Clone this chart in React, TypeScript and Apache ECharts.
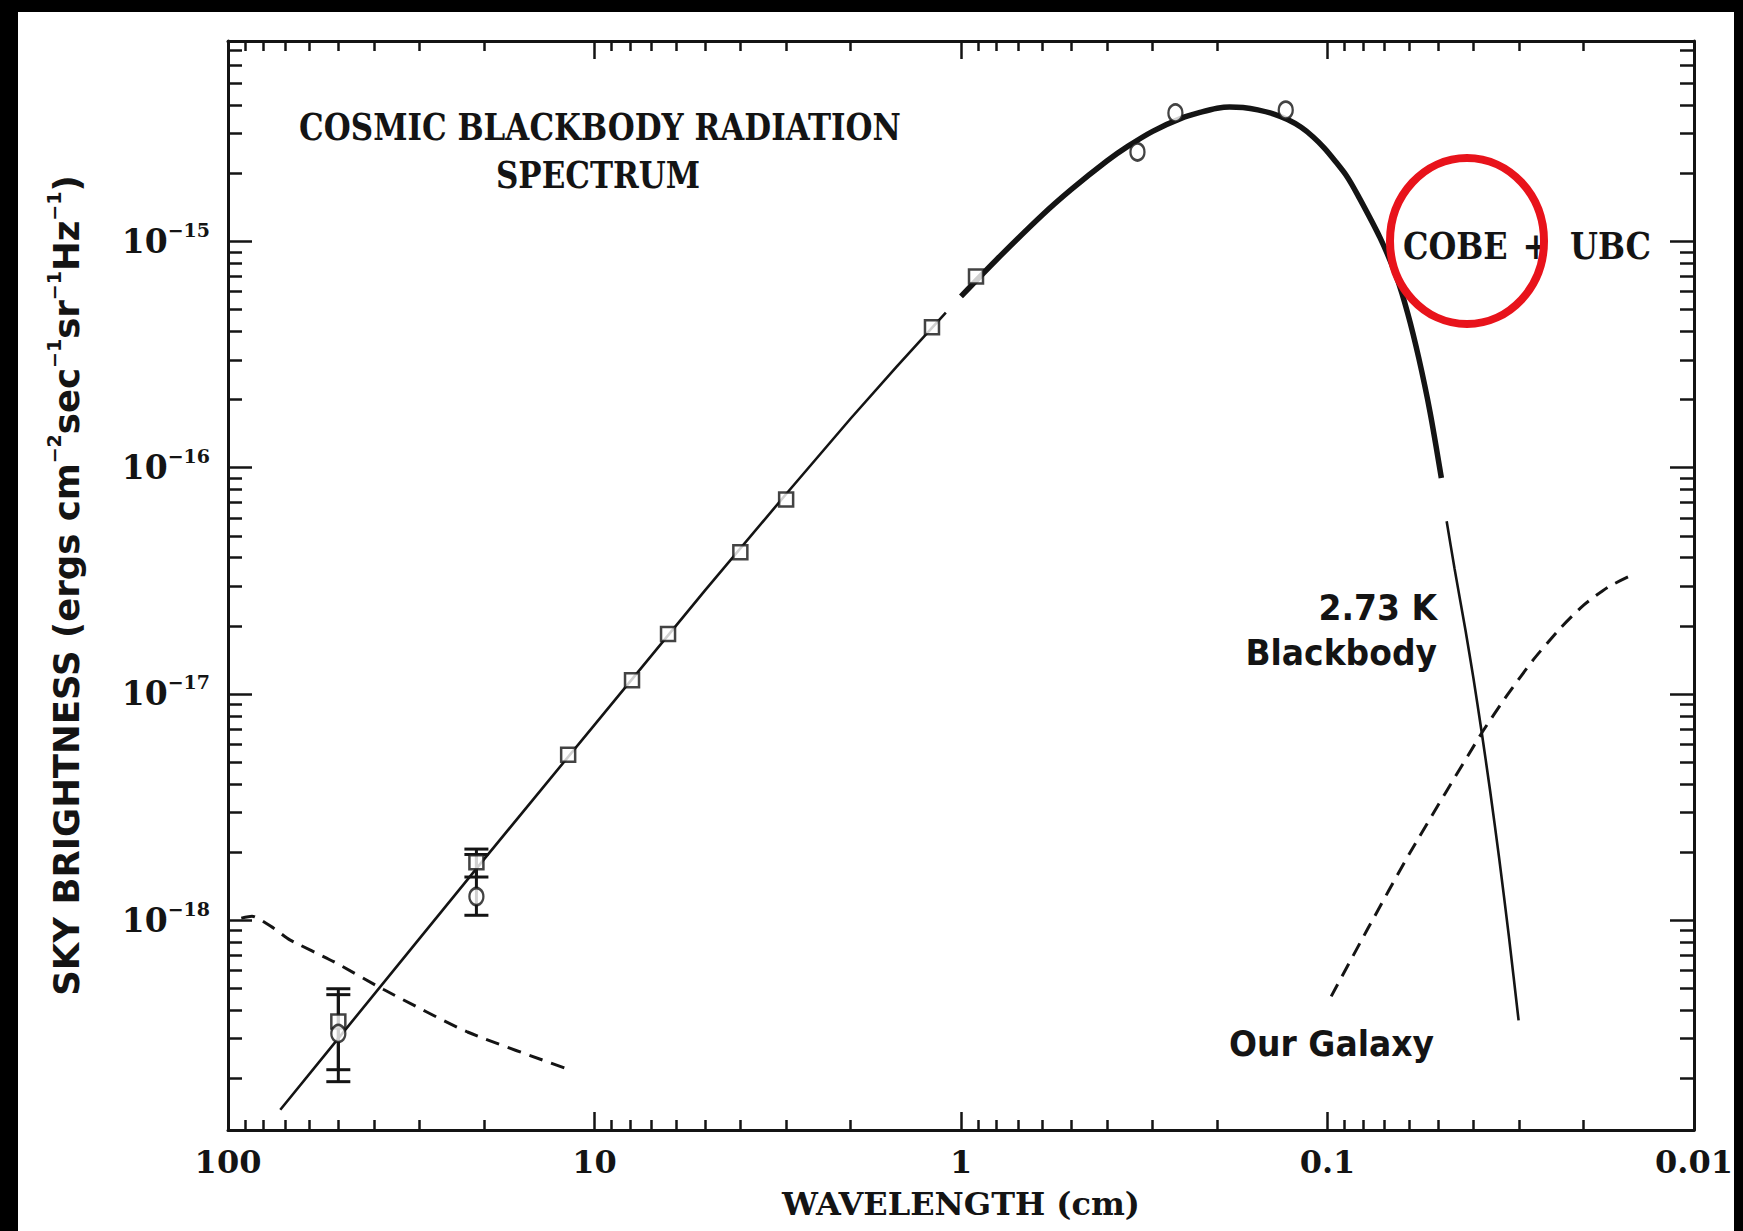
import React, { useEffect, useRef } from 'react';
import * as echarts from 'echarts';

// Wavelength in cm, sky brightness in erg cm^-2 s^-1 sr^-1 Hz^-1
const bbLowLambda = [72, 50, 30, 20, 10, 5, 3, 2, 1.5, 1.1];
const bbLowValue = [1.45e-19, 3.0e-19, 8.3e-19, 1.86e-18, 7.3e-18, 2.86e-17, 7.65e-17, 1.65e-16, 2.79e-16, 4.85e-16];

const bbPeakLambda = [1.0, 0.8, 0.6, 0.5, 0.4, 0.35, 0.3, 0.25, 0.22, 0.2, 0.185, 0.17, 0.155, 0.14, 0.1285, 0.118, 0.1094, 0.102, 0.0951, 0.0885, 0.0826, 0.0719, 0.0648, 0.0604, 0.0564, 0.0525, 0.0489];
const bbPeakValue = [5.72e-16, 8.31e-16, 1.31e-15, 1.7e-15, 2.27e-15, 2.64e-15, 3.07e-15, 3.51e-15, 3.74e-15, 3.88e-15, 3.93e-15, 3.91e-15, 3.82e-15, 3.66e-15, 3.46e-15, 3.2e-15, 2.9e-15, 2.59e-15, 2.26e-15, 1.94e-15, 1.6e-15, 1.04e-15, 6.97e-16, 4.81e-16, 3.07e-16, 1.76e-16, 9.0e-17];

const bbTailLambda = [0.0473, 0.045, 0.042, 0.04, 0.038, 0.036, 0.034, 0.032, 0.0301];
const bbTailValue = [5.8e-17, 3.57e-17, 1.9e-17, 1.18e-17, 6.85e-18, 3.73e-18, 1.87e-18, 8.5e-19, 3.6e-19];

const galLowLambda = [92, 86, 75, 68, 51.5, 37.6, 22.2, 11.7];
const galLowValue = [1.02e-18, 1.04e-18, 9.2e-19, 8.2e-19, 6.55e-19, 4.93e-19, 3.2e-19, 2.18e-19];

const galHighLambda = [0.0977, 0.0778, 0.0594, 0.0382, 0.0323, 0.0274, 0.0231, 0.02, 0.0172, 0.0149];
const galHighValue = [4.6e-19, 9.1e-19, 2.0e-18, 6.6e-18, 9.9e-18, 1.42e-17, 1.96e-17, 2.47e-17, 2.96e-17, 3.33e-17];

const squareLambda = [50, 21, 11.8, 7.9, 6.3, 4.0, 3.0, 1.2, 0.91];
const squareValue = [3.56e-19, 1.8e-18, 5.38e-18, 1.15e-17, 1.84e-17, 4.23e-17, 7.23e-17, 4.18e-16, 7.0e-16];

const circleLambda = [50, 21, 0.33, 0.26, 0.13];
const circleValue = [3.15e-19, 1.27e-18, 2.49e-15, 3.7e-15, 3.81e-15];

const errorLambda = [50, 50, 21, 21];
const errorLow = [2.18e-19, 1.93e-19, 1.55e-18, 1.05e-18];
const errorHigh = [4.97e-19, 4.68e-19, 2.06e-18, 1.95e-18];

// Axis ticks and labels
const xMajorTicks = [100, 10, 1, 0.1, 0.01];
const xMinorTicks = [
  90, 80, 70, 60, 50, 40, 30, 20,
  9, 8, 7, 6, 5, 4, 3, 2,
  0.9, 0.8, 0.7, 0.6, 0.5, 0.4, 0.3, 0.2,
  0.09, 0.08, 0.07, 0.06, 0.05, 0.04, 0.03, 0.02,
];
const xTickLabels = ['0.01', '0.1', '1', '10', '100'];
const yMajorTicks = [1e-18, 1e-17, 1e-16, 1e-15];
const yMinorTicks = [
  2e-19, 3e-19, 4e-19, 5e-19, 6e-19, 7e-19, 8e-19, 9e-19,
  2e-18, 3e-18, 4e-18, 5e-18, 6e-18, 7e-18, 8e-18, 9e-18,
  2e-17, 3e-17, 4e-17, 5e-17, 6e-17, 7e-17, 8e-17, 9e-17,
  2e-16, 3e-16, 4e-16, 5e-16, 6e-16, 7e-16, 8e-16, 9e-16,
  2e-15, 3e-15, 4e-15, 5e-15, 6e-15, 7e-15,
];

const X_MIN = 0.01;
const X_MAX = 100;
const Y_MIN = 1.18e-19;
const Y_MAX = 7.7e-15;

const INK = '#141414';
const SERIF = "'DejaVu Serif', 'Liberation Serif', serif";
const SANS = "'DejaVu Sans', 'Liberation Sans', sans-serif";

function pairs(a: number[], b: number[]) {
  return a.map((v, i) => [v, b[i]]);
}

function makeXAxis(position: string, ticks: number[], len: number, line: boolean, label: boolean) {
  const ax: any = {
    type: 'log',
    logBase: 10,
    min: X_MIN,
    max: X_MAX,
    inverse: true,
    position,
    splitLine: { show: false },
    axisLine: { show: line, onZero: false, lineStyle: { color: INK, width: 3 } },
    axisTick: { show: true, inside: true, length: len, customValues: ticks, lineStyle: { color: INK, width: 2.5 } },
    axisLabel: { show: false },
  };
  if (label) {
    ax.axisLabel = {
      show: true,
      customValues: xMajorTicks,
      margin: 16,
      color: INK,
      fontFamily: SERIF,
      fontWeight: 'bold',
      fontSize: 32,
      formatter: (v: number) => xTickLabels[Math.round(Math.log10(v)) + 2],
    };
    ax.name = 'WAVELENGTH (cm)';
    ax.nameLocation = 'middle';
    ax.nameGap = 58;
    ax.nameTextStyle = { color: INK, fontFamily: SERIF, fontWeight: 'bold', fontSize: 32 };
  }
  return ax;
}

function makeYAxis(position: string, ticks: number[], len: number, line: boolean, label: boolean) {
  const ax: any = {
    type: 'log',
    logBase: 10,
    min: Y_MIN,
    max: Y_MAX,
    position,
    splitLine: { show: false },
    axisLine: { show: line, onZero: false, lineStyle: { color: INK, width: 3 } },
    axisTick: { show: true, inside: true, length: len, customValues: ticks, lineStyle: { color: INK, width: 2.5 } },
    axisLabel: { show: false },
  };
  if (label) {
    ax.axisLabel = {
      show: true,
      customValues: yMajorTicks,
      margin: 18,
      color: INK,
      formatter: (v: number) => '{b|10}{s|\u2212' + String(-Math.round(Math.log10(v))) + '}',
      rich: {
        b: { fontFamily: SERIF, fontWeight: 'bold', fontSize: 33, lineHeight: 42, color: INK },
        s: { fontFamily: SERIF, fontWeight: 'bold', fontSize: 19, lineHeight: 24, verticalAlign: 'top', color: INK },
      },
    };
    ax.name = 'SKY BRIGHTNESS (ergs cm{s|\u22122}sec{s|\u22121}sr{s|\u22121}Hz{s|\u22121})';
    ax.nameLocation = 'middle';
    ax.nameRotate = 90;
    ax.nameGap = 140;
    ax.nameTextStyle = {
      color: INK,
      fontFamily: SANS,
      fontWeight: 'bold',
      fontSize: 35.5,
      lineHeight: 44,
      rich: {
        s: { fontFamily: SANS, fontWeight: 'bold', fontSize: 19, lineHeight: 22, verticalAlign: 'top', color: INK },
      },
    };
  }
  return ax;
}

function lineSeries(name: string, lam: number[], val: number[], width: number, dashed: boolean, smooth: number) {
  return {
    type: 'line',
    name,
    data: pairs(lam, val),
    xAxisIndex: 0,
    yAxisIndex: 0,
    showSymbol: false,
    symbol: 'none',
    smooth,
    silent: true,
    z: 3,
    lineStyle: { color: INK, width, type: dashed ? [14, 9] : 'solid', cap: 'butt' },
  };
}

function buildOption() {
  const textStyleSerif = { fill: INK, fontFamily: SERIF, fontWeight: 'bold', fontSize: 31 };
  const textStyleSerif2 = { fill: INK, fontFamily: SERIF, fontWeight: 'bold', fontSize: 32 };
  const textStyleSans = { fill: INK, fontFamily: SANS, fontWeight: 'bold', fontSize: 33 };
  return {
    animation: false,
    backgroundColor: '#000000',
    grid: { left: 228, top: 41, width: 1466, height: 1089, containLabel: false },
    xAxis: [
      makeXAxis('bottom', xMajorTicks, 18, true, true),
      makeXAxis('bottom', xMinorTicks, 10, false, false),
      makeXAxis('top', xMajorTicks, 18, true, false),
      makeXAxis('top', xMinorTicks, 10, false, false),
    ],
    yAxis: [
      makeYAxis('left', yMajorTicks, 24, true, true),
      makeYAxis('left', yMinorTicks, 14, false, false),
      makeYAxis('right', yMajorTicks, 24, true, false),
      makeYAxis('right', yMinorTicks, 14, false, false),
    ],
    graphic: [
      { type: 'rect', z: -10, silent: true, shape: { x: 18, y: 12, width: 1716, height: 1219 }, style: { fill: '#ffffff' } },
      { type: 'text', x: 600, y: 127, scaleY: 1.22, z: 10, style: { ...textStyleSerif, text: 'COSMIC BLACKBODY RADIATION', textAlign: 'center', textVerticalAlign: 'middle' } },
      { type: 'text', x: 598, y: 175, scaleY: 1.22, z: 10, style: { ...textStyleSerif, text: 'SPECTRUM', textAlign: 'center', textVerticalAlign: 'middle' } },
      { type: 'text', x: 1403, y: 246, scaleY: 1.15, z: 10, style: { ...textStyleSerif2, text: 'COBE', textAlign: 'left', textVerticalAlign: 'middle' } },
      { type: 'text', x: 1536, y: 246, scaleY: 1.15, z: 10, style: { ...textStyleSerif2, text: '+', textAlign: 'center', textVerticalAlign: 'middle' } },
      { type: 'text', x: 1651, y: 246, scaleY: 1.15, z: 10, style: { ...textStyleSerif2, text: 'UBC', textAlign: 'right', textVerticalAlign: 'middle' } },
      { type: 'text', x: 1437, y: 607, scaleY: 1.1, z: 10, style: { ...textStyleSans, text: '2.73 K', textAlign: 'right', textVerticalAlign: 'middle' } },
      { type: 'text', x: 1437, y: 652, scaleY: 1.1, z: 10, style: { ...textStyleSans, text: 'Blackbody', textAlign: 'right', textVerticalAlign: 'middle' } },
      { type: 'text', x: 1434, y: 1043, scaleY: 1.1, z: 10, style: { ...textStyleSans, text: 'Our Galaxy', textAlign: 'right', textVerticalAlign: 'middle' } },
      { type: 'ellipse', z: 20, silent: true, shape: { cx: 1467, cy: 241, rx: 77, ry: 83 }, style: { fill: 'none', stroke: '#e8131b', lineWidth: 8 } },
    ],
    series: [
      lineSeries('2.73 K Blackbody (low frequency)', bbLowLambda, bbLowValue, 2.6, false, 0),
      lineSeries('2.73 K Blackbody (COBE)', bbPeakLambda, bbPeakValue, 5.5, false, 0.3),
      lineSeries('2.73 K Blackbody (Wien tail)', bbTailLambda, bbTailValue, 2.6, false, 0.2),
      lineSeries('Our Galaxy (radio)', galLowLambda, galLowValue, 3, true, 0.2),
      lineSeries('Our Galaxy (dust)', galHighLambda, galHighValue, 3, true, 0.2),
      {
        type: 'custom',
        name: 'Error bars',
        xAxisIndex: 0,
        yAxisIndex: 0,
        silent: true,
        z: 4,
        data: errorLambda.map((l, i) => [l, errorLow[i], errorHigh[i]]),
        encode: { x: 0, y: [1, 2] },
        renderItem: (params: any, api: any) => {
          const x = api.value(0);
          const lo = api.coord([x, api.value(1)]);
          const hi = api.coord([x, api.value(2)]);
          const w = 12;
          const st = { stroke: INK, lineWidth: 3 };
          return {
            type: 'group',
            children: [
              { type: 'line', shape: { x1: lo[0], y1: lo[1], x2: hi[0], y2: hi[1] }, style: st },
              { type: 'line', shape: { x1: lo[0] - w, y1: lo[1], x2: lo[0] + w, y2: lo[1] }, style: st },
              { type: 'line', shape: { x1: hi[0] - w, y1: hi[1], x2: hi[0] + w, y2: hi[1] }, style: st },
            ],
          };
        },
      },
      {
        type: 'scatter',
        name: 'Squares',
        xAxisIndex: 0,
        yAxisIndex: 0,
        silent: true,
        z: 5,
        symbol: 'rect',
        symbolSize: 14,
        itemStyle: { color: '#ffffff', borderColor: INK, borderWidth: 2.5 },
        data: pairs(squareLambda, squareValue),
      },
      {
        type: 'scatter',
        name: 'Circles',
        xAxisIndex: 0,
        yAxisIndex: 0,
        silent: true,
        z: 5,
        symbol: 'circle',
        symbolSize: [14, 17],
        itemStyle: { color: '#ffffff', borderColor: INK, borderWidth: 2.5 },
        data: pairs(circleLambda, circleValue),
      },
    ],
  };
}

export default function App() {
  const ref = useRef<HTMLDivElement>(null);
  useEffect(() => {
    document.body.style.margin = '0';
    const el = ref.current;
    if (!el) return;
    const chart = echarts.init(el, undefined, { renderer: 'svg', width: 1743, height: 1231 });
    chart.setOption(buildOption() as any);
    return () => {
      chart.dispose();
    };
  }, []);
  return <div ref={ref} style={{ position: 'absolute', left: 0, top: 0, width: 1743, height: 1231 }} />;
}
